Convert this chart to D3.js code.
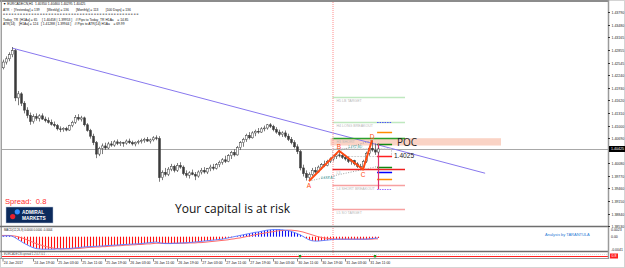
<!DOCTYPE html>
<html>
<head>
<meta charset="utf-8">
<title>EURCADECN H1</title>
<script src="https://cdn.jsdelivr.net/npm/d3@7"></script>
<style>
  body { margin: 0; background: #fff; }
  svg { display: block; }
  text { font-family: "Liberation Sans", Arial, sans-serif; }
</style>
</head>
<body>
<svg id="chart" width="625" height="268"></svg>
<script>
// ---- values (EURCADECN, H1, 24 Jan 07:00 .. 31 Jan 14:00) ----
const opens = [
  1.4236, 1.4244, 1.4242, 1.4256, 1.4264, 1.4274, 1.4284, 1.4168,
  1.4178, 1.4155, 1.4138, 1.4125, 1.4110, 1.4122, 1.4118, 1.4124,
  1.4116, 1.4112, 1.4108, 1.4103, 1.4100, 1.4092, 1.4090, 1.4093,
  1.4089, 1.4100, 1.4108, 1.4120, 1.4116, 1.4119, 1.4102, 1.4088,
  1.4074, 1.4058, 1.4030, 1.4044, 1.4050, 1.4045, 1.4055, 1.4052,
  1.4060, 1.4056, 1.4058, 1.4057, 1.4062, 1.4058, 1.4055, 1.4059,
  1.4061, 1.4063, 1.4066, 1.4062, 1.4065, 1.4070, 1.4068, 1.3972,
  1.3985, 1.3980, 1.3993, 1.4000, 1.3990, 1.4002, 1.3998, 1.3982,
  1.3978, 1.3984, 1.3980, 1.3976, 1.3986, 1.3990, 1.3986, 1.3994,
  1.3998, 1.3995, 1.4004, 1.4010, 1.4016, 1.4012, 1.4026, 1.4034,
  1.4028, 1.4046, 1.4058, 1.4066, 1.4076, 1.4070, 1.4082, 1.4086,
  1.4084, 1.4092, 1.4094, 1.4102, 1.4098, 1.4090, 1.4084, 1.4078,
  1.4082, 1.4074, 1.4066, 1.4058, 1.4048, 1.4036, 1.3996, 1.3982,
  1.3972, 1.3980, 1.3990, 1.3986, 1.3998, 1.4004, 1.4002, 1.4012,
  1.4018, 1.4024, 1.4028, 1.4026, 1.4022, 1.4018, 1.4012, 1.4014,
  1.4006, 1.4000, 1.3998, 1.4012, 1.4032, 1.4044, 1.4040, 1.4035
];
const highs = [
  1.4250, 1.4252, 1.4262, 1.4270, 1.4280, 1.4293, 1.4288, 1.4185,
  1.4182, 1.4160, 1.4145, 1.4132, 1.4128, 1.4130, 1.4128, 1.4130,
  1.4122, 1.4120, 1.4115, 1.4110, 1.4104, 1.4098, 1.4096, 1.4097,
  1.4102, 1.4112, 1.4126, 1.4128, 1.4124, 1.4122, 1.4106, 1.4092,
  1.4080, 1.4062, 1.4048, 1.4056, 1.4058, 1.4060, 1.4062, 1.4064,
  1.4066, 1.4062, 1.4060, 1.4066, 1.4068, 1.4063, 1.4061, 1.4065,
  1.4068, 1.4070, 1.4072, 1.4068, 1.4074, 1.4076, 1.4074, 1.3990,
  1.3996, 1.3998, 1.4006, 1.4004, 1.4008, 1.4010, 1.4002, 1.3990,
  1.3988, 1.3992, 1.3986, 1.3990, 1.3996, 1.3998, 1.3996, 1.4004,
  1.4006, 1.4008, 1.4014, 1.4020, 1.4026, 1.4030, 1.4038, 1.4042,
  1.4050, 1.4062, 1.4070, 1.4080, 1.4084, 1.4086, 1.4090, 1.4094,
  1.4096, 1.4100, 1.4104, 1.4106, 1.4102, 1.4096, 1.4090, 1.4086,
  1.4088, 1.4080, 1.4072, 1.4064, 1.4054, 1.4040, 1.4004, 1.3990,
  1.3985, 1.3996, 1.3998, 1.4002, 1.4008, 1.4014, 1.4016, 1.4022,
  1.4026, 1.4032, 1.4038, 1.4032, 1.4028, 1.4024, 1.4018, 1.4016,
  1.4010, 1.4006, 1.4016, 1.4036, 1.4050, 1.4064, 1.4056, 1.4046
];
const lows = [
  1.4228, 1.4236, 1.4238, 1.4250, 1.4258, 1.4268, 1.4160, 1.4150,
  1.4148, 1.4130, 1.4118, 1.4102, 1.4105, 1.4112, 1.4110, 1.4114,
  1.4108, 1.4105, 1.4100, 1.4096, 1.4088, 1.4084, 1.4085, 1.4086,
  1.4087, 1.4096, 1.4104, 1.4112, 1.4110, 1.4098, 1.4085, 1.4068,
  1.4052, 1.4020, 1.4025, 1.4030, 1.4040, 1.4042, 1.4048, 1.4048,
  1.4052, 1.4050, 1.4048, 1.4053, 1.4055, 1.4051, 1.4049, 1.4054,
  1.4056, 1.4058, 1.4060, 1.4056, 1.4061, 1.4064, 1.3962, 1.3966,
  1.3975, 1.3976, 1.3988, 1.3985, 1.3986, 1.3994, 1.3978, 1.3972,
  1.3970, 1.3978, 1.3966, 1.3972, 1.3980, 1.3982, 1.3981, 1.3988,
  1.3990, 1.3992, 1.3998, 1.4004, 1.4008, 1.4010, 1.4018, 1.4024,
  1.4026, 1.4040, 1.4048, 1.4060, 1.4066, 1.4068, 1.4074, 1.4080,
  1.4082, 1.4086, 1.4090, 1.4094, 1.4086, 1.4080, 1.4074, 1.4072,
  1.4070, 1.4062, 1.4054, 1.4044, 1.4030, 1.3990, 1.3975, 1.3965,
  1.3964, 1.3976, 1.3982, 1.3984, 1.3992, 1.3998, 1.4000, 1.4008,
  1.4012, 1.4018, 1.4022, 1.4018, 1.4014, 1.4008, 1.4004, 1.4002,
  1.3996, 1.3994, 1.3992, 1.4008, 1.4026, 1.4036, 1.4028, 1.40295
];
const closes = [
  1.4244, 1.4242, 1.4256, 1.4264, 1.4274, 1.4284, 1.4168, 1.4178,
  1.4155, 1.4138, 1.4125, 1.4110, 1.4122, 1.4118, 1.4124, 1.4116,
  1.4112, 1.4108, 1.4103, 1.4100, 1.4092, 1.4090, 1.4093, 1.4089,
  1.4100, 1.4108, 1.4120, 1.4116, 1.4119, 1.4102, 1.4088, 1.4074,
  1.4058, 1.4030, 1.4044, 1.4050, 1.4045, 1.4055, 1.4052, 1.4060,
  1.4056, 1.4058, 1.4057, 1.4062, 1.4058, 1.4055, 1.4059, 1.4061,
  1.4063, 1.4066, 1.4062, 1.4065, 1.4070, 1.4068, 1.3972, 1.3985,
  1.3980, 1.3993, 1.4000, 1.3990, 1.4002, 1.3998, 1.3982, 1.3978,
  1.3984, 1.3980, 1.3976, 1.3986, 1.3990, 1.3986, 1.3994, 1.3998,
  1.3995, 1.4004, 1.4010, 1.4016, 1.4012, 1.4026, 1.4034, 1.4028,
  1.4046, 1.4058, 1.4066, 1.4076, 1.4070, 1.4082, 1.4086, 1.4084,
  1.4092, 1.4094, 1.4102, 1.4098, 1.4090, 1.4084, 1.4078, 1.4082,
  1.4074, 1.4066, 1.4058, 1.4048, 1.4036, 1.3996, 1.3982, 1.3972,
  1.3980, 1.3990, 1.3986, 1.3998, 1.4004, 1.4002, 1.4012, 1.4018,
  1.4024, 1.4028, 1.4026, 1.4022, 1.4018, 1.4012, 1.4014, 1.4006,
  1.4000, 1.3998, 1.4012, 1.4032, 1.4044, 1.4040, 1.4035, 1.40425
];

// MACD(12,26,9) in units of 0.0001
const macdMain = [
  2, 2, 2, 3, 3, 2, -3, -9, -15, -21, -26, -31, -35,
  -38, -39, -40, -40, -40, -40, -40, -39, -39, -39, -38, -38,
  -37, -36, -35, -34, -33, -32, -32, -31, -31, -30, -30,
  -29, -28, -28, -27, -27, -26, -25, -25, -24, -24, -23, -23,
  -22, -21, -20, -19, -18, -17,
  -19, -21, -22, -22, -22, -21, -21, -20, -20, -19, -19, -18, -17, -16,
  -15, -14, -13, -12, -11, -10, -9, -8, -6, -4, -2,
  0, 2, 4, 6, 8, 10, 12, 14, 15, 17,
  19, 21, 22, 23, 23, 23, 22, 21, 20,
  17, 14, 10, 6,
  1, -5, -10, -13, -14, -14,
  -13, -12, -11, -10, -9, -8, -8, -8, -8, -8, -8, -8, -8, -8,
  -8, -8, -7, -6, -5, -4
];
const macdSignal = [
  4, 4, 4, 4, 4, 3, 2, 0, -3, -6, -10, -14, -18,
  -22, -25, -28, -31, -33, -35, -37, -38, -39, -39, -39, -39,
  -39, -38, -38, -37, -36, -35, -34, -34, -33, -33, -32,
  -32, -31, -30, -30, -29, -29, -28, -27, -27, -26, -26, -25,
  -25, -24, -23, -23, -22, -21,
  -21, -21, -21, -21, -21, -21, -21, -21, -21, -21, -20, -20, -20, -19,
  -19, -18, -17, -16, -15, -14, -13, -12, -11, -10, -8,
  -7, -5, -4, -2, 0, 2, 4, 6, 8, 10,
  11, 13, 15, 16, 18, 19, 20, 20, 21,
  21, 20, 19, 17,
  15, 12, 9, 6, 3, 0,
  -2, -4, -5, -6, -7, -8, -8, -8, -8, -8, -8, -8, -8, -8,
  -8, -8, -8, -8, -7, -7
];

const timeLabelBars = [0, 12, 20, 28, 36, 44, 52, 60, 68, 76, 84, 92, 100, 108, 116, 124];
const timeLabels = ["24 Jan 2017", "24 Jan 19:00", "25 Jan 03:00", "25 Jan 11:00", "25 Jan 19:00",
  "26 Jan 03:00", "26 Jan 11:00", "26 Jan 19:00", "27 Jan 03:00", "27 Jan 11:00", "27 Jan 19:00",
  "30 Jan 03:00", "30 Jan 11:00", "30 Jan 19:00", "31 Jan 03:00", "31 Jan 11:00"];

const priceTicks = [1.43790, 1.43480, 1.43165, 1.42855, 1.42545, 1.42240, 1.41930, 1.41620, 1.41310,
  1.41000, 1.40690, 1.40080, 1.39770, 1.39460, 1.39150, 1.38840, 1.38530];
const macdTicks = [0.0023, 0, -0.0041];
const macdTickLabels = ["0.0023", "0.00", "-0.0041"];

const currentPrice = 1.40425;
const daySeparatorBar = 112.5;

// pivot levels of the day (drawn from the day separator)
const pivotNames = ["H5 LB TARGET", "H4 LONG BREAKOUT", "H3 SHORT", "L3", "L4 SHORT BREAKOUT", "L5 SO TARGET"];
const pivotPrices = [1.41702, 1.41088, 1.40687, 1.39933, 1.39533, 1.38950];
// short marks right of the last bar
const sidePrices = [1.41088, 1.40835, 1.40560, 1.40253, 1.39980, 1.39860, 1.39680, 1.39450];
const pocLow = 1.40510, pocHigh = 1.40690;

// harmonic ABCD swing
const swingNames = ["A", "B", "C", "D"];
const swingBars = [104, 114, 122, 125];
const swingPrices = [1.3964, 1.4038, 1.3992, 1.4064];

// falling trend line (bar index, price)
const trendBars = [5, 162.7];
const trendPrices = [1.42905, 1.39830];

const spreadMarkBars = [101, 126];

const infoLines = [
  "\u25BC EURCADECN,H1  1.40350 1.40460 1.40295 1.40425",
  "ATR  :  [Yesterday] = 139        [Weekly] = 136        [Monthly] = 113        [100 Days] = 136",
  "= = = = = = = = = = = = = = = = = = = = = = = = = = = = = = = = = = = = = = = = = = = = = = = =",
  "Today_TR  [H1Aa] = 65     [ 1.40458 | 1.39953 ]    // Pips to Today_TR H1Aa    = 14.85",
  "ATR(14)    [H1Aa] = 124   [ 1.41288 | 1.39944 ]    // Pips to ATR(14) H1Aa    = 69.99"
];

// ---- layout ----
const W = 625, H = 268;
const left = 2, right = 608;
const mainTop = 2, mainBottom = 226;
const macdTop = 227, macdBottom = 251;
const spreadBottom = 258;

const svg = d3.select("#chart");
const defs = svg.append("defs");
defs.append("clipPath").attr("id", "clipMain").append("rect")
    .attr("x", left).attr("y", mainTop).attr("width", right - left).attr("height", mainBottom - mainTop);
defs.append("clipPath").attr("id", "clipMacd").append("rect")
    .attr("x", left).attr("y", macdTop).attr("width", right - left).attr("height", macdBottom - macdTop);

const x = d3.scaleLinear().domain([0, 127]).range([-3, 378]);
const y = d3.scaleLinear().domain([1.4379, 1.40425]).range([12, 149]);
const ym = d3.scaleLinear().domain([0.0023, -0.0041]).range([229.5, 249.5]);
const px = i => Math.round(x(i)) + 0.5;

svg.append("rect").attr("width", W).attr("height", H).attr("fill", "#fff");

// ---- main panel ----
const main = svg.append("g").attr("clip-path", "url(#clipMain)");

// POC zone
main.append("rect")
    .attr("x", x(daySeparatorBar) - 4).attr("y", y(pocHigh))
    .attr("width", x(168) - x(daySeparatorBar) + 4).attr("height", y(pocLow) - y(pocHigh))
    .attr("fill", "#f9cbbb").attr("opacity", 0.85);

// current price line
main.append("line")
    .attr("x1", left).attr("x2", right)
    .attr("y1", Math.round(y(currentPrice)) + 0.5).attr("y2", Math.round(y(currentPrice)) + 0.5)
    .attr("stroke", "#a8a8a8").attr("stroke-width", 1);

// trend line
main.append("line")
    .attr("x1", x(trendBars[0])).attr("y1", y(trendPrices[0]))
    .attr("x2", x(trendBars[1])).attr("y2", y(trendPrices[1]))
    .attr("stroke", "#8878ee").attr("stroke-width", 1);

// pivot levels
const pivotColors = ["#bfe8bf", "#bfe8bf", "#2aa02a", "#ee2020", "#f7a0a0", "#f7a0a0"];
const pivotEnd = 136;
pivotPrices.forEach((p, k) => {
  const yy = Math.round(y(p)) + 0.5;
  main.append("line").attr("x1", x(daySeparatorBar) - 2).attr("x2", x(pivotEnd))
      .attr("y1", yy).attr("y2", yy)
      .attr("stroke", pivotColors[k]).attr("stroke-width", 1.5);
  main.append("text").attr("x", x(daySeparatorBar) + 2).attr("y", yy + 4)
      .attr("font-size", 3.6).attr("fill", "#b8b8b8").text(pivotNames[k]);
});

// dashed box around the last swing
main.append("rect")
    .attr("x", x(daySeparatorBar) - 2).attr("y", y(1.4043))
    .attr("width", x(131.5) - x(daySeparatorBar) + 2).attr("height", y(1.4024) - y(1.4043))
    .attr("fill", "none").attr("stroke", "#cfcfcf").attr("stroke-dasharray", "2,1");

// short levels right of the last bar
const sideColors = ["#4b4bff", "#ff8c00", "#138a13", "#ff2020", "#138a13", "#0000ff", "#ff8c00", "#9a6cff"];
const sideDash = [true, false, false, false, false, false, false, true];
sidePrices.forEach((p, k) => {
  const yy = Math.round(y(p)) + 0.5;
  main.append("line").attr("x1", x(126.7)).attr("x2", x(131.7))
      .attr("y1", yy).attr("y2", yy)
      .attr("stroke", sideColors[k]).attr("stroke-width", sideDash[k] ? 1 : 1.5)
      .attr("stroke-dasharray", sideDash[k] ? "1.5,1" : null);
});
main.append("line")
    .attr("x1", px(127)).attr("x2", px(127))
    .attr("y1", y(1.4056)).attr("y2", y(1.3944))
    .attr("stroke", "#e0306a").attr("stroke-width", 1.2);
main.append("text").attr("x", x(132.3)).attr("y", y(1.40253) + 2.4)
    .attr("font-size", 6.6).attr("fill", "#222").text("1.4025");
main.append("text").attr("x", x(133.3)).attr("y", y(pocLow) + 0.6)
    .style("font-family", "'Open Sans', 'Noto Sans', sans-serif")
    .attr("font-size", 10).attr("fill", "#222").text("POC");

// day separator
svg.append("line")
    .attr("x1", x(daySeparatorBar) - 1.5).attr("x2", x(daySeparatorBar) - 1.5)
    .attr("y1", mainTop).attr("y2", spreadBottom)
    .attr("stroke", "#ff8c8c").attr("stroke-width", 1).attr("stroke-dasharray", "1,1");

// candles
const candleInk = "#3a3a3a";
const candles = main.append("g").selectAll("g")
    .data(d3.range(opens.length))
    .join("g");
candles.append("line")
    .attr("x1", i => px(i)).attr("x2", i => px(i))
    .attr("y1", i => y(highs[i])).attr("y2", i => y(lows[i]))
    .attr("stroke", "#5a5a5a").attr("stroke-width", 0.8);
candles.append("rect")
    .attr("x", i => px(i) - 1)
    .attr("y", i => y(Math.max(opens[i], closes[i])))
    .attr("width", 2)
    .attr("height", i => Math.max(0.7, y(Math.min(opens[i], closes[i])) - y(Math.max(opens[i], closes[i]))))
    .attr("fill", i => closes[i] >= opens[i] ? "#fff" : candleInk)
    .attr("stroke", candleInk).attr("stroke-width", 0.5);

// ABCD swing with dotted projections
const swingPts = swingBars.map((b, k) => [x(b), y(swingPrices[k])]);
const acSlope = (swingPrices[2] - swingPrices[0]) / (swingBars[2] - swingBars[0]);
main.append("line")
    .attr("x1", swingPts[0][0]).attr("y1", swingPts[0][1])
    .attr("x2", x(127.5)).attr("y2", y(swingPrices[0] + acSlope * (127.5 - swingBars[0])))
    .attr("stroke", "#8a8a8a").attr("stroke-width", 0.8).attr("stroke-dasharray", "1,1.5");
main.append("line")
    .attr("x1", swingPts[1][0]).attr("y1", swingPts[1][1])
    .attr("x2", swingPts[3][0]).attr("y2", swingPts[3][1])
    .attr("stroke", "#8a8a8a").attr("stroke-width", 0.8).attr("stroke-dasharray", "1,1.5");
main.append("text").attr("x", x(108)).attr("y", y(1.3968))
    .attr("font-size", 3.4).attr("fill", "#3aa3a3").text("0.618 AC");
main.append("text").attr("x", x(117)).attr("y", y(1.4046))
    .attr("font-size", 3.4).attr("fill", "#3aa3a3").text("1.272 BD");
main.append("path")
    .attr("d", d3.line()(swingPts))
    .attr("fill", "none").attr("stroke", "#ff4a12").attr("stroke-width", 2)
    .attr("stroke-linejoin", "round");
const swingDy = [7.5, -2, 7.5, -1.5];
main.append("g").selectAll("text")
    .data(swingNames)
    .join("text")
    .attr("x", (d, k) => swingPts[k][0])
    .attr("y", (d, k) => swingPts[k][1] + swingDy[k])
    .attr("text-anchor", "middle")
    .attr("font-size", 6.5).attr("fill", "#ff4a12")
    .text(d => d);

// info block, top left
svg.append("g").selectAll("text")
    .data(infoLines)
    .join("text")
    .attr("x", 3)
    .attr("y", (d, k) => [5.3, 11.1, 15.4, 20.5, 24.6][k])
    .attr("font-size", 3.3).attr("fill", "#111")
    .style("white-space", "pre")
    .text(d => d);

// spread label and broker logo
svg.append("text").attr("x", 5).attr("y", 203.5)
    .attr("font-size", 7.6).attr("fill", "#ff2b2b").style("white-space", "pre")
    .text("Spread:  0.8");
const logo = svg.append("g");
logo.append("rect").attr("x", 6).attr("y", 207).attr("width", 47).attr("height", 16)
    .attr("fill", "#0c2a5c").attr("stroke", "#b9c6da").attr("stroke-width", 0.5);
logo.append("circle").attr("cx", 17.3).attr("cy", 211.8).attr("r", 2.6).attr("fill", "#2f8cff");
logo.append("circle").attr("cx", 12.7).attr("cy", 216.6).attr("r", 2.6).attr("fill", "#e8202e");
logo.append("text").attr("x", 22).attr("y", 214.2).attr("font-size", 4.8)
    .attr("font-weight", "bold").attr("fill", "#fff").text("ADMIRAL");
logo.append("text").attr("x", 22).attr("y", 219.8).attr("font-size", 4.8)
    .attr("font-weight", "bold").attr("fill", "#fff").text("MARKETS");

svg.append("text").attr("x", 175).attr("y", 212.6)
    .style("font-family", "'Open Sans', 'Noto Sans', sans-serif")
    .attr("font-size", 12).attr("fill", "#111")
    .text("Your capital is at risk");

// ---- MACD panel ----
const macd = svg.append("g").attr("clip-path", "url(#clipMacd)");
macd.append("g").selectAll("line")
    .data(macdMain)
    .join("line")
    .attr("x1", (d, i) => px(i)).attr("x2", (d, i) => px(i))
    .attr("y1", ym(0)).attr("y2", d => ym(d * 1e-4))
    .attr("stroke", d => d >= 0 ? "#1010f0" : "#ff1010").attr("stroke-width", 1.1);
macd.append("path")
    .attr("d", d3.line().x((d, i) => x(i)).y(d => ym(d * 1e-4))(macdSignal))
    .attr("fill", "none").attr("stroke", "#ff6a6a").attr("stroke-width", 1);
macd.append("path")
    .attr("d", d3.line().x((d, i) => x(i)).y(d => ym(d * 1e-4))(macdMain))
    .attr("fill", "none").attr("stroke", "#5a78ff").attr("stroke-width", 0.9);
svg.append("text").attr("x", 4).attr("y", 231)
    .attr("font-size", 2.8).attr("fill", "#222")
    .text("MACD(12,26,9) 0.0000 0.0000 -0.0004");
svg.append("text").attr("x", 545).attr("y", 235.6)
    .attr("font-size", 4).attr("fill", "#2a7bd5")
    .text("Analysis by TARANTULA");

// ---- spread panel ----
svg.append("line").attr("x1", left).attr("x2", right).attr("y1", 254.5).attr("y2", 254.5)
    .attr("stroke", "#c8c8c8").attr("stroke-width", 0.6).attr("stroke-dasharray", "1,1");
svg.append("line").attr("x1", left).attr("x2", right).attr("y1", 256.5).attr("y2", 256.5)
    .attr("stroke", "#ff2020").attr("stroke-width", 1);
svg.append("text").attr("x", 4).attr("y", 254.8)
    .attr("font-size", 2.8).attr("fill", "#555")
    .text("EURCADECN spread 1.2 0.7 0.1");
svg.append("g").selectAll("rect")
    .data(spreadMarkBars)
    .join("rect")
    .attr("x", d => x(d) - 1.2).attr("y", 255).attr("width", 2.4).attr("height", 2.4)
    .attr("fill", "#1f8f1f");

// ---- frames ----
const frame = svg.append("g").attr("fill", "none");
frame.append("rect").attr("x", 0.5).attr("y", 0.5).attr("width", W - 1).attr("height", H - 1)
    .attr("stroke", "#d4d4d4");
frame.append("line").attr("x1", 0).attr("x2", right).attr("y1", 1).attr("y2", 1)
    .attr("stroke", "#8c8c8c").attr("stroke-width", 2);
frame.append("line").attr("x1", 1.5).attr("x2", 1.5).attr("y1", 0).attr("y2", spreadBottom)
    .attr("stroke", "#a0a0a0");
[mainBottom + 0.5, macdBottom + 0.5].forEach(v => {
  frame.append("line").attr("x1", 0).attr("x2", right).attr("y1", v).attr("y2", v)
      .attr("stroke", "#6e6e6e").attr("stroke-width", 1.5);
});
frame.append("line").attr("x1", 0).attr("x2", right).attr("y1", spreadBottom + 0.5).attr("y2", spreadBottom + 0.5)
    .attr("stroke", "#9a9a9a");
frame.append("line").attr("x1", right + 0.5).attr("x2", right + 0.5).attr("y1", 0).attr("y2", spreadBottom + 1)
    .attr("stroke", "#9a9a9a").attr("stroke-width", 1.5);

// ---- price axis ----
const axis = svg.append("g");
axis.selectAll("g.tick")
    .data(priceTicks)
    .join("g").attr("class", "tick")
    .each(function (p) {
      const g = d3.select(this), yy = Math.round(y(p)) + 0.5;
      g.append("line").attr("x1", right).attr("x2", right + 2).attr("y1", yy).attr("y2", yy).attr("stroke", "#333");
      g.append("text").attr("x", right + 3.5).attr("y", yy + 1.2).attr("font-size", 3.5).attr("fill", "#222")
          .text(p.toFixed(5));
    });
axis.append("rect").attr("x", right + 1).attr("y", y(currentPrice) - 3).attr("width", 16).attr("height", 6)
    .attr("fill", "#000");
axis.append("text").attr("x", right + 3).attr("y", y(currentPrice) + 1.3)
    .attr("font-size", 3.6).attr("fill", "#fff").text(currentPrice.toFixed(5));
axis.selectAll("text.m")
    .data(macdTicks)
    .join("text").attr("class", "m")
    .attr("x", right + 3).attr("y", d => ym(d) + 1.2)
    .attr("font-size", 3.5).attr("fill", "#222")
    .text((d, k) => macdTickLabels[k]);
axis.append("rect").attr("x", right + 2).attr("y", 253.5).attr("width", 8).attr("height", 5)
    .attr("fill", "#ff2020");
axis.append("text").attr("x", right + 3.5).attr("y", 257.3)
    .attr("font-size", 3.5).attr("fill", "#fff").text("0.8");

// ---- time axis ----
const tAxis = svg.append("g");
timeLabelBars.forEach((b, k) => {
  const xx = k === 0 ? 3 : px(b);
  tAxis.append("line").attr("x1", xx).attr("x2", xx).attr("y1", spreadBottom + 1).attr("y2", spreadBottom + 3.5)
      .attr("stroke", "#333").attr("stroke-width", 0.6);
  tAxis.append("text").attr("x", xx + 0.8).attr("y", 263.8)
      .attr("font-size", 3.5).attr("fill", "#222").text(timeLabels[k]);
});
</script>
</body>
</html>
